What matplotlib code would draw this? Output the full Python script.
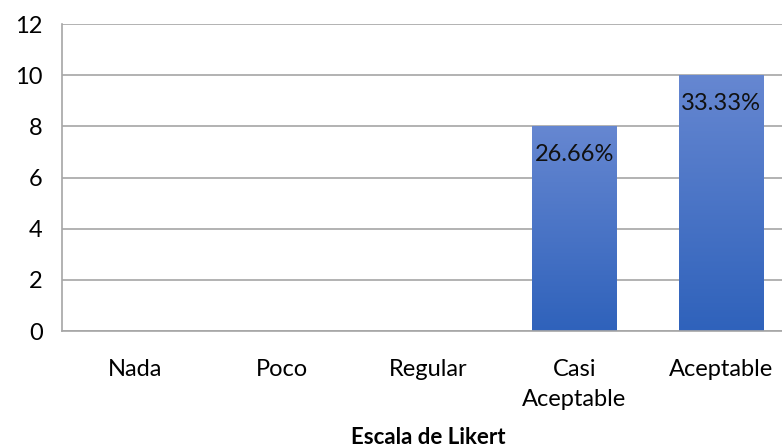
import numpy as np
import matplotlib.pyplot as plt
from matplotlib.colors import LinearSegmentedColormap

categorias = ['Nada', 'Poco', 'Regular', 'Casi\nAceptable', 'Aceptable']
valores = [0, 0, 0, 8, 10]
etiquetas = ['', '', '', '26.66%', '33.33%']
yticks = [0, 2, 4, 6, 8, 10, 12]

plt.rcParams['font.family'] = ['Lato', 'DejaVu Sans']
fig = plt.figure(figsize=(7.82, 4.48), dpi=100)
ax = fig.add_axes([62/782, 117/448, 732/782, 307/448])

grey = '#a6a6a6'
cmap = LinearSegmentedColormap.from_list('bar', ['#2f62bb', '#6687d1'])
x = np.arange(len(categorias))
bars = ax.bar(x, valores, width=0.575, color='none', zorder=2)
grad = np.linspace(0, 1, 256).reshape(-1, 1)
for b in bars:
    h = b.get_height()
    if h <= 0:
        continue
    x0 = b.get_x()
    im = ax.imshow(grad, cmap=cmap, origin='lower', aspect='auto',
                   extent=(x0, x0 + b.get_width(), 0, h), zorder=2)
    im.set_clip_path(b)
for b, t in zip(bars, etiquetas):
    if t:
        ax.text(b.get_x() + b.get_width()/2, b.get_height() - 1.1, t,
                ha='center', va='center', fontsize=17, color='#111111', zorder=3)

ax.set_xlim(-0.5, len(categorias) - 0.5)
ax.set_ylim(0, 12)
ax.set_yticks(yticks)
ax.set_xticks(x)
ax.set_xticklabels(categorias, fontsize=17, va='top', linespacing=1.55)
ax.tick_params(axis='y', labelsize=17, length=0, pad=14)
ax.tick_params(axis='x', length=0, pad=20)
ax.yaxis.grid(True, color=grey, linewidth=1.2, zorder=0)
ax.set_axisbelow(True)
for s in ['top', 'right']:
    ax.spines[s].set_visible(False)
for s in ['left', 'bottom']:
    ax.spines[s].set_color(grey)
    ax.spines[s].set_linewidth(1.2)
fig.text(428/782, 1 - 437/448, 'Escala de Likert', fontsize=16, fontweight='bold',
         ha='center', va='center')

fig.savefig('out.png', dpi=100)
